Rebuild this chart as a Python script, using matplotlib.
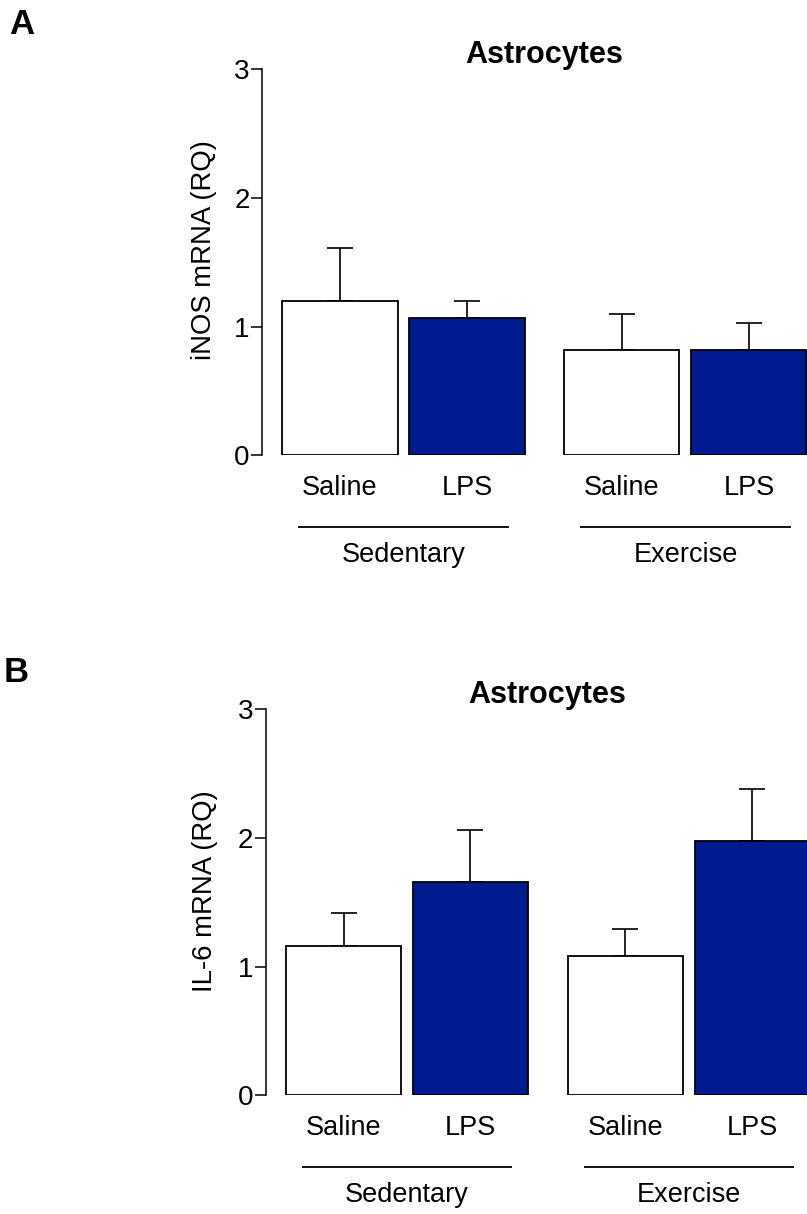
import matplotlib
matplotlib.use("Agg")
import matplotlib.pyplot as plt
import numpy as np

plt.rcParams['font.family'] = ['Liberation Sans', 'DejaVu Sans']

# Data
conditions = ["Saline", "LPS", "Saline", "LPS"]
groups = ["Sedentary", "Exercise"]
inos_mean = [1.20, 1.07, 0.82, 0.82]
inos_sem = [0.41, 0.13, 0.28, 0.21]
il6_mean = [1.16, 1.66, 1.08, 1.98]
il6_sem = [0.26, 0.40, 0.21, 0.40]
yticks = [0, 1, 2, 3]

bar_colors = ["white", "#001b8f", "white", "#001b8f"]
positions = np.array([0.0, 1.0, 2.22, 3.22])
bar_width = 0.906

W, H = 807, 1214
fig = plt.figure(figsize=(W / 100, H / 100), dpi=100)


def panel(left_px, zero_px, top_px, xlim, means, sems, ylabel, ylabel_xy,
          letter, letter_xy, title_xy):
    ax = fig.add_axes([left_px / W, 1 - zero_px / H, 1 - left_px / W, (zero_px - top_px) / H])
    ax.bar(positions, means, width=bar_width, color=bar_colors,
           edgecolor="black", linewidth=1.3, zorder=2)
    ax.errorbar(positions, means, yerr=[np.zeros(len(means)), sems], fmt="none",
                ecolor="black", elinewidth=1.2, capsize=9.4, capthick=1.2, zorder=1)
    ax.set_ylim(0, 3)
    ax.set_xlim(*xlim)
    ax.set_yticks(yticks)
    ax.set_yticklabels([str(t) for t in yticks])
    ax.set_xticks([])
    for s in ["top", "right", "bottom"]:
        ax.spines[s].set_visible(False)
    ax.spines["left"].set_linewidth(1.1)
    ax.tick_params(axis="y", length=8, width=1.1, pad=1, labelsize=20)

    fig.text(ylabel_xy[0] / W, 1 - ylabel_xy[1] / H, ylabel, rotation=90,
             ha="center", va="center", fontsize=19.8)

    # condition labels under each bar
    for x, lab in zip(positions, conditions):
        ax.text(x, -0.252, lab, ha="center", va="center", fontsize=19.5, clip_on=False)
    # group brackets and labels
    for i, g in enumerate(groups):
        c = (positions[2 * i] + positions[2 * i + 1]) / 2
        ax.plot([c - 0.83, c + 0.83], [-0.555, -0.555], color="black", lw=1.3,
                clip_on=False, solid_capstyle="butt")
        ax.text(c, -0.775, g, ha="center", va="center", fontsize=19.5, clip_on=False)

    fig.text(title_xy[0] / W, 1 - title_xy[1] / H, "Astrocytes", ha="center",
             va="baseline", fontsize=22, fontweight="bold")
    fig.text(letter_xy[0] / W, 1 - letter_xy[1] / H, letter, ha="left", va="top",
             fontsize=25, fontweight="bold")
    return ax


ax_a = panel(262, 455.3, 69.3, (-0.614, 3.677), inos_mean, inos_sem,
             "iNOS mRNA (RQ)", (204, 250), "A", (9, 8), (544, 63))
ax_b = panel(265.8, 1095.3, 709.3, (-0.612, 3.65), il6_mean, il6_sem,
             "IL-6 mRNA (RQ)", (205, 891), "B", (4, 656), (547, 703))

fig.savefig("out.png", dpi=100)
